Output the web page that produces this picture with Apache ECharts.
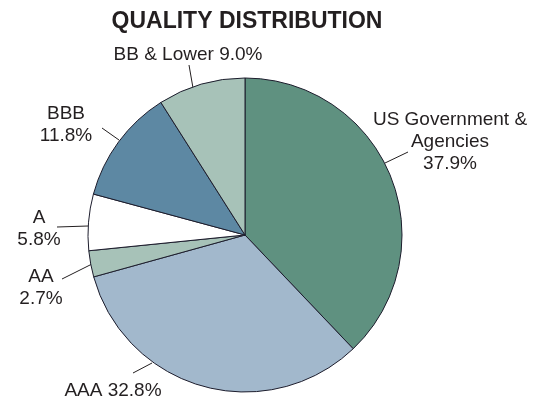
<!DOCTYPE html>
<html>
<head>
<meta charset="UTF-8" />
<title>Quality Distribution</title>
<script src="https://cdn.jsdelivr.net/npm/echarts@6/dist/echarts.min.js"></script>
<style>
  html, body { margin: 0; padding: 0; background: #fff; }
  #chart { width: 537px; height: 402px; }
</style>
</head>
<body>
<div id="chart"></div>
<script>
// slices, clockwise from 12 o'clock
var names = ['US Government &\nAgencies', 'AAA', 'AA', 'A', 'BBB', 'BB & Lower'];
var values = [37.9, 32.8, 2.7, 5.8, 11.8, 9.0];
var colors = ['#5f9180', '#a2b8cc', '#a7c2b8', '#ffffff', '#5d88a3', '#a7c2b8'];
// label text: on one line or split under the name
var inline = [false, true, false, false, false, true];

// where each label sits (center of the text block) and its leader line
var labelPos = [[450, 142], [113, 391], [41, 288], [39, 229], [66, 125], [188, 55]];
var leaders = [
  [[385, 163], [408, 152]],
  [[152, 363], [133, 373]],
  [[92, 264], [62, 279]],
  [[88, 226], [57, 227]],
  [[119, 140], [102, 128]],
  [[193, 88], [189, 65]]
];

var chart = echarts.init(document.getElementById('chart'));

var data = names.map(function (n, i) {
  return {
    name: n,
    value: values[i],
    itemStyle: { color: colors[i] },
    label: { formatter: n + (inline[i] ? ' ' : '\n') + values[i].toFixed(1) + '%' }
  };
});

chart.setOption({
  title: {
    text: 'QUALITY DISTRIBUTION',
    left: 242,
    textAlign: 'center',
    top: 5,
    textStyle: { fontFamily: 'Liberation Sans', fontSize: 23, fontWeight: 'bold', color: '#231f20' }
  },
  series: [{
    type: 'pie',
    center: [245, 235],
    radius: 157,
    startAngle: 90,
    clockwise: true,
    animation: false,
    silent: true,
    data: data,
    itemStyle: { borderColor: '#1c1c2c', borderWidth: 1 },
    label: {
      position: 'outside',
      fontFamily: 'Liberation Sans',
      fontSize: 19,
      lineHeight: 22,
      color: '#231f20',
      align: 'center',
      overflow: 'none'
    },
    labelLine: {
      show: true,
      length: 12,
      length2: 0,
      lineStyle: { color: '#231f20', width: 1 }
    },
    labelLayout: function (p) {
      var pos = labelPos[p.dataIndex];
      return {
        x: pos[0],
        y: pos[1],
        align: 'center',
        verticalAlign: 'middle',
        width: 200,
        labelLinePoints: [leaders[p.dataIndex][0], leaders[p.dataIndex][1], leaders[p.dataIndex][1]]
      };
    }
  }]
});
</script>
</body>
</html>
